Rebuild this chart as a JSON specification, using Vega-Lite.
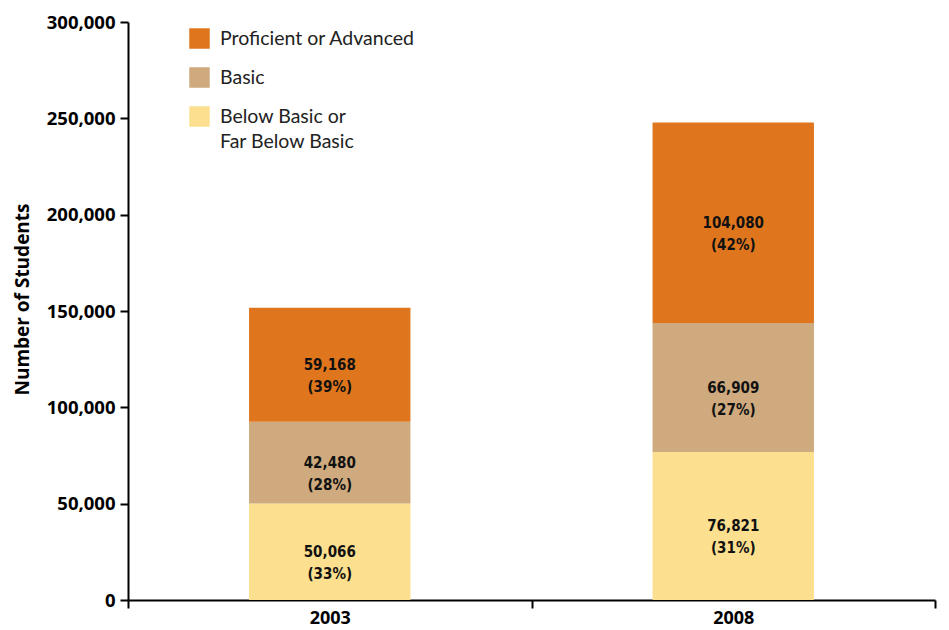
{
  "$schema": "https://vega.github.io/schema/vega-lite/v6.json",
  "width": 807,
  "height": 578,
  "autosize": {"type": "none"},
  "padding": {"left": 128, "top": 22, "right": 14, "bottom": 30},
  "background": "white",
  "data": {
    "values": [
      {"year": "2003", "level": "Below Basic or Far Below Basic", "students": 50066, "pct": 33},
      {"year": "2003", "level": "Basic", "students": 42480, "pct": 28},
      {"year": "2003", "level": "Proficient or Advanced", "students": 59168, "pct": 39},
      {"year": "2008", "level": "Below Basic or Far Below Basic", "students": 76821, "pct": 31},
      {"year": "2008", "level": "Basic", "students": 66909, "pct": 27},
      {"year": "2008", "level": "Proficient or Advanced", "students": 104080, "pct": 42}
    ]
  },
  "transform": [
    {"calculate": "indexof(['Below Basic or Far Below Basic','Basic','Proficient or Advanced'], datum.level)", "as": "rank"},
    {"stack": "students", "groupby": ["year"], "sort": [{"field": "rank", "order": "ascending"}], "as": ["y0", "y1"]},
    {"calculate": "(datum.y0 + datum.y1) / 2", "as": "mid"},
    {"calculate": "[format(datum.students, ','), '(' + datum.pct + '%)']", "as": "label"}
  ],
  "encoding": {
    "x": {
      "field": "year",
      "type": "nominal",
      "scale": {"paddingInner": 0, "paddingOuter": 0},
      "axis": {
        "title": null,
        "labelAngle": 0,
        "tickBand": "extent",
        "domainColor": "black",
        "domainWidth": 2,
        "tickColor": "black",
        "tickWidth": 2,
        "tickSize": 8,
        "labelFont": "Open Sans",
        "labelFontWeight": "bold",
        "labelFontSize": 18,
        "labelColor": "black",
        "labelPadding": 1
      }
    }
  },
  "layer": [
    {
      "mark": {"type": "bar", "width": {"band": 0.4}},
      "encoding": {
        "y": {
          "field": "y0",
          "type": "quantitative",
          "scale": {"domain": [0, 300000]},
          "title": "Number of Students",
          "axis": {
            "values": [0, 50000, 100000, 150000, 200000, 250000, 300000],
            "format": ",d",
            "grid": false,
            "domainColor": "black",
            "domainWidth": 2,
            "tickColor": "black",
            "tickWidth": 2,
            "tickSize": 8,
            "labelFont": "Open Sans",
            "labelFontWeight": "bold",
            "labelFontSize": 18.5,
            "labelColor": "black",
            "labelPadding": 5,
            "titleFont": "Open Sans",
            "titleFontWeight": "bold",
            "titleFontSize": 19,
            "titleColor": "black",
            "titleX": -96,
            "titleY": 277
          }
        },
        "y2": {"field": "y1"},
        "color": {
          "field": "level",
          "type": "nominal",
          "scale": {
            "domain": ["Proficient or Advanced", "Basic", "Below Basic or Far Below Basic"],
            "range": ["#DF761D", "#CEAA7E", "#FDE08F"]
          },
          "legend": {
            "title": null,
            "orient": "none",
            "legendX": 61,
            "legendY": 6,
            "symbolType": "square",
            "symbolSize": 420,
            "symbolStrokeWidth": 0,
            "symbolOpacity": 1,
            "labelFont": "Lato",
            "labelFontSize": 19.5,
            "labelColor": "#222",
            "labelOffset": 10,
            "rowPadding": 18,
            "labelLimit": 300,
            "labelExpr": "datum.label == 'Below Basic or Far Below Basic' ? ['Below Basic or', 'Far Below Basic'] : datum.label"
          }
        }
      }
    },
    {
      "mark": {"type": "text", "font": "DejaVu Sans Condensed", "fontWeight": "bold", "fontSize": 15, "lineHeight": 22, "color": "#111", "baseline": "middle"},
      "encoding": {
        "y": {"field": "mid", "type": "quantitative"},
        "text": {"field": "label"}
      }
    }
  ],
  "config": {
    "view": {"stroke": null},
    "style": {"guide-label": {"lineHeight": 25}}
  }
}
